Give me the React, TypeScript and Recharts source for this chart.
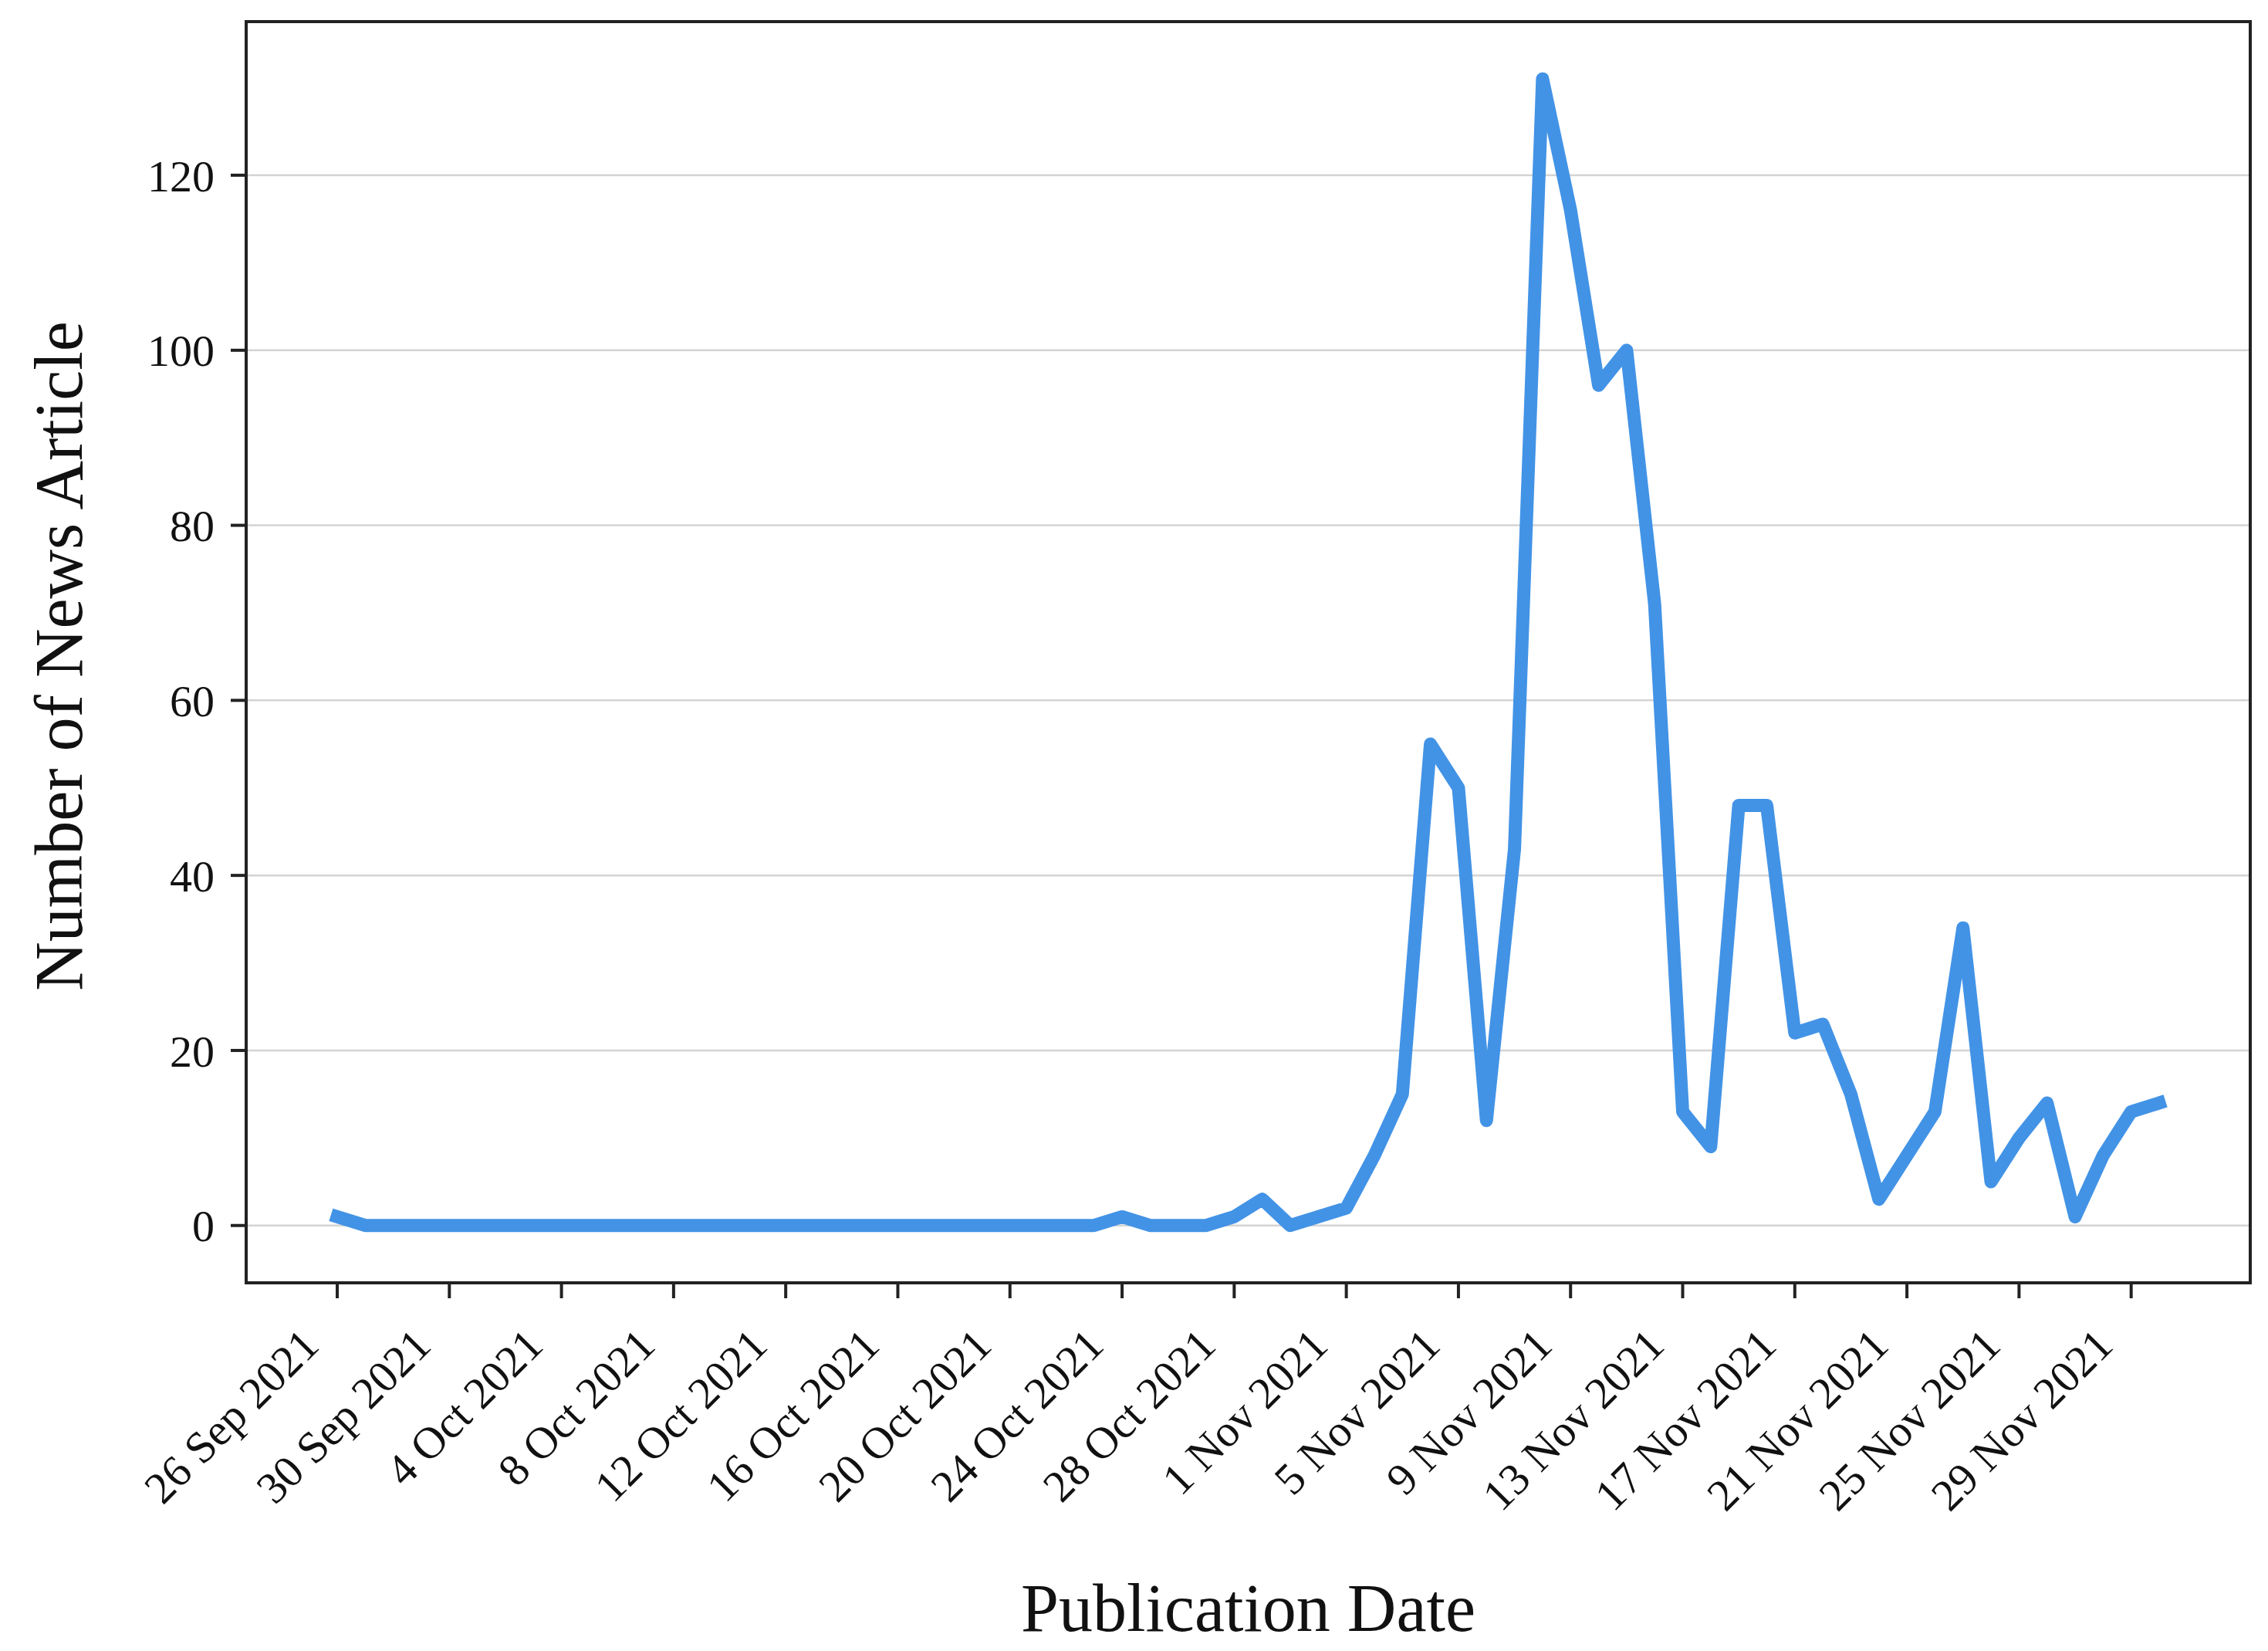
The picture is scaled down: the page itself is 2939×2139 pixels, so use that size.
import React from "react";
import * as R from "recharts";
import {
  CartesianGrid,
  Label,
  Line,
  LineChart,
  XAxis,
  YAxis,
} from "recharts";

const FONT = '"Liberation Serif", "Times New Roman", serif';
const INK = "#111";
const FRAME = "#222";

// one entry per day, 26 Sep 2021 .. 30 Nov 2021
const dates = [
  "26 Sep 2021", "27 Sep 2021", "28 Sep 2021", "29 Sep 2021", "30 Sep 2021",
  "1 Oct 2021", "2 Oct 2021", "3 Oct 2021", "4 Oct 2021", "5 Oct 2021",
  "6 Oct 2021", "7 Oct 2021", "8 Oct 2021", "9 Oct 2021", "10 Oct 2021",
  "11 Oct 2021", "12 Oct 2021", "13 Oct 2021", "14 Oct 2021", "15 Oct 2021",
  "16 Oct 2021", "17 Oct 2021", "18 Oct 2021", "19 Oct 2021", "20 Oct 2021",
  "21 Oct 2021", "22 Oct 2021", "23 Oct 2021", "24 Oct 2021", "25 Oct 2021",
  "26 Oct 2021", "27 Oct 2021", "28 Oct 2021", "29 Oct 2021", "30 Oct 2021",
  "31 Oct 2021", "1 Nov 2021", "2 Nov 2021", "3 Nov 2021", "4 Nov 2021",
  "5 Nov 2021", "6 Nov 2021", "7 Nov 2021", "8 Nov 2021", "9 Nov 2021",
  "10 Nov 2021", "11 Nov 2021", "12 Nov 2021", "13 Nov 2021", "14 Nov 2021",
  "15 Nov 2021", "16 Nov 2021", "17 Nov 2021", "18 Nov 2021", "19 Nov 2021",
  "20 Nov 2021", "21 Nov 2021", "22 Nov 2021", "23 Nov 2021", "24 Nov 2021",
  "25 Nov 2021", "26 Nov 2021", "27 Nov 2021", "28 Nov 2021", "29 Nov 2021",
  "30 Nov 2021",
];

const articles = [
  1, 0, 0, 0, 0,
  0, 0, 0, 0, 0,
  0, 0, 0, 0, 0,
  0, 0, 0, 0, 0,
  0, 0, 0, 0, 0,
  0, 0, 0, 1, 0,
  0, 0, 1, 3, 0,
  1, 2, 8, 15, 55,
  50, 12, 43, 131, 116,
  96, 100, 71, 13, 9,
  48, 48, 22, 23, 15,
  3, 8, 13, 34, 5,
  10, 14, 1, 8, 13,
  14,
];

const yTicks = [0, 20, 40, 60, 80, 100, 120];
// matplotlib-style 5% margins around 0..131
const yDomain = [-6.55, 137.55];

const data = dates.map((date, i) => ({ date, count: articles[i] }));

function DateTick(props: any) {
  const { x, y, payload } = props;
  return (
    <g transform={`translate(${x - 21},${y})`}>
      <text
        textAnchor="end"
        transform="rotate(-45)"
        fontFamily={FONT}
        fontSize={58}
        fill={INK}
      >
        {payload.value}
      </text>
    </g>
  );
}

// box around the plot area (matplotlib spines on all four sides)
function Frame() {
  const anyR = R as any;
  let box: { x: number; y: number; width: number; height: number } | null = null;
  if (anyR.usePlotArea) {
    box = anyR.usePlotArea();
  } else if (anyR.useOffset) {
    const o = anyR.useOffset();
    const w = anyR.useChartWidth ? anyR.useChartWidth() : 2939;
    const h = anyR.useChartHeight ? anyR.useChartHeight() : 2139;
    if (o) box = { x: o.left, y: o.top, width: w - o.left - o.right, height: h - o.top - o.bottom };
  }
  if (!box) return null;
  return (
    <rect
      x={box.x}
      y={box.y}
      width={box.width}
      height={box.height}
      fill="none"
      stroke={FRAME}
      strokeWidth={4}
    />
  );
}

export default function App() {
  return (
    <div
      style={{
        position: "absolute",
        left: 0,
        top: 0,
        width: 2939,
        height: 2139,
        background: "#fff",
      }}
    >
      <LineChart
        width={2939}
        height={2139}
        data={data}
        margin={{ top: 28, right: 23, bottom: 0, left: 19 }}
      >
        <CartesianGrid vertical={false} stroke="#d4d4d4" strokeWidth={2.5} />
        <XAxis
          dataKey="date"
          height={477}
          interval={3}
          padding={{ left: 118, right: 118 }}
          axisLine={{ stroke: FRAME, strokeWidth: 4 }}
          tickLine={{ stroke: FRAME, strokeWidth: 4 }}
          tickSize={20}
          tickMargin={64}
          tick={<DateTick />}
        >
          <Label
            content={(p: any) => {
              const vb = p.viewBox;
              return (
                <text
                  x={vb.x + vb.width / 2}
                  y={vb.y + 451}
                  textAnchor="middle"
                  fontFamily={FONT}
                  fontSize={88}
                  fill={INK}
                >
                  Publication Date
                </text>
              );
            }}
          />
        </XAxis>
        <YAxis
          type="number"
          domain={yDomain}
          ticks={yTicks}
          allowDataOverflow
          width={300}
          axisLine={{ stroke: FRAME, strokeWidth: 4 }}
          tickLine={{ stroke: FRAME, strokeWidth: 4 }}
          tickSize={20}
          tickMargin={21}
          tick={{ fontFamily: FONT, fontSize: 58, fill: INK }}
        >
          <Label
            content={(p: any) => {
              const vb = p.viewBox;
              const cx = vb.x + 87;
              const cy = 850;
              return (
                <text
                  x={cx}
                  y={cy}
                  textAnchor="middle"
                  transform={`rotate(-90, ${cx}, ${cy})`}
                  fontFamily={FONT}
                  fontSize={88}
                  fill={INK}
                >
                  Number of News Article
                </text>
              );
            }}
          />
        </YAxis>
        <Line
          type="linear"
          dataKey="count"
          stroke="#4293E6"
          strokeWidth={17}
          strokeLinejoin="round"
          strokeLinecap="square"
          dot={false}
          activeDot={false}
          isAnimationActive={false}
        />
        <Frame />
      </LineChart>
    </div>
  );
}
